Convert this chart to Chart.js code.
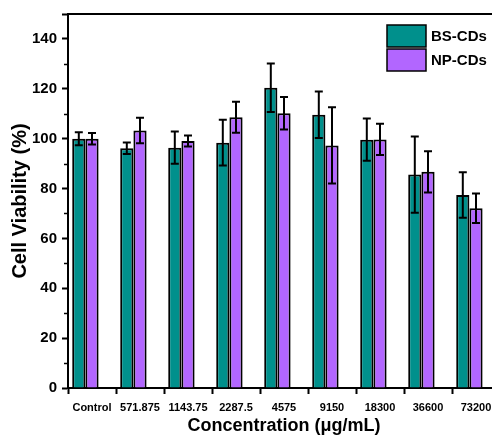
<!DOCTYPE html>
<html>
<head>
<meta charset="utf-8">
<script src="https://cdn.jsdelivr.net/npm/chart.js@4/dist/chart.umd.min.js"></script>
<style>
  html, body { margin: 0; padding: 0; background: #fff; overflow: hidden; }
  #wrap { width: 508px; height: 445px; }
</style>
</head>
<body>
<div id="wrap"><canvas id="chart" width="508" height="445"></canvas></div>
<script>
const categories = ['Control', '571.875', '1143.75', '2287.5', '4575', '9150', '18300', '36600', '73200'];
const bsValues = [100, 96.2, 96.4, 98.4, 120.4, 109.6, 99.6, 85.6, 77.4];
const bsErrors = [2.6, 2.3, 6.5, 9.2, 9.7, 9.3, 8.5, 15.3, 9.1];
const npValues = [100, 103.3, 99.1, 108.6, 110.2, 97.3, 99.7, 86.7, 72.1];
const npErrors = [2.3, 5.1, 2.2, 6.2, 6.5, 15.3, 6.3, 8.3, 5.9];
const yMinorTicks = [10, 30, 50, 70, 90, 110, 130];

const FONT = '"Liberation Sans", Arial, sans-serif';
const TEAL = '#00908c';
const PURPLE = '#b266ff';

// error bars, drawn from the library's own bar elements and y scale
const errorBars = {
  id: 'errorBars',
  afterDatasetsDraw(chart) {
    const { ctx } = chart;
    const yScale = chart.scales.y;
    ctx.save();
    ctx.strokeStyle = '#000';
    ctx.lineWidth = 2;
    chart.data.datasets.forEach((ds, i) => {
      if (!ds.errors) return;
      const meta = chart.getDatasetMeta(i);
      meta.data.forEach((bar, j) => {
        const v = ds.data[j];
        const e = ds.errors[j];
        const top = yScale.getPixelForValue(v + e);
        const bot = yScale.getPixelForValue(v - e);
        ctx.beginPath();
        ctx.moveTo(bar.x, top);
        ctx.lineTo(bar.x, bot);
        ctx.moveTo(bar.x - 4, top);
        ctx.lineTo(bar.x + 4, top);
        ctx.moveTo(bar.x - 4, bot);
        ctx.lineTo(bar.x + 4, bot);
        ctx.stroke();
      });
    });
    ctx.restore();
  }
};

// top frame line, minor y ticks and the boxed legend
const frame = {
  id: 'frame',
  afterDraw(chart) {
    const { ctx, chartArea } = chart;
    const yScale = chart.scales.y;
    ctx.save();
    ctx.strokeStyle = '#000';
    ctx.lineWidth = 2;
    ctx.beginPath();
    ctx.moveTo(chartArea.left - 1, chartArea.top);
    ctx.lineTo(chartArea.right, chartArea.top);
    ctx.stroke();

    ctx.lineWidth = 1.5;
    yMinorTicks.forEach((v) => {
      const y = Math.round(yScale.getPixelForValue(v)) + 0.5;
      ctx.beginPath();
      ctx.moveTo(chartArea.left - 4, y);
      ctx.lineTo(chartArea.left, y);
      ctx.stroke();
    });

    const boxX = chartArea.right - 113;
    let boxY = chartArea.top + 11;
    ctx.font = 'bold 15px ' + FONT;
    ctx.textBaseline = 'middle';
    chart.data.datasets.forEach((ds) => {
      if (!ds.label) return;
      ctx.fillStyle = ds.backgroundColor;
      ctx.fillRect(boxX, boxY, 39, 22);
      ctx.lineWidth = 1.5;
      ctx.strokeStyle = '#000';
      ctx.strokeRect(boxX, boxY, 39, 22);
      ctx.fillStyle = '#000';
      ctx.fillText(ds.label, boxX + 44, boxY + 12);
      boxY += 24;
    });
    ctx.restore();
  }
};

const barStyle = {
  borderColor: '#000',
  borderWidth: 2,
  barPercentage: 1,
  categoryPercentage: 0.825
};

new Chart(document.getElementById('chart'), {
  type: 'bar',
  data: {
    labels: categories,
    datasets: [
      { label: 'BS-CDs', data: bsValues, errors: bsErrors, backgroundColor: TEAL, ...barStyle },
      { label: 'NP-CDs', data: npValues, errors: npErrors, backgroundColor: PURPLE, ...barStyle },
      // empty slot so each pair sits left of its tick, as in the original
      { label: '', data: categories.map(() => null), backgroundColor: 'rgba(0,0,0,0)', ...barStyle }
    ]
  },
  options: {
    responsive: false,
    animation: false,
    layout: { padding: { left: 0, right: 8, top: 13, bottom: 0 } },
    plugins: {
      legend: { display: false },
      tooltip: { enabled: false }
    },
    scales: {
      x: {
        afterFit: (scale) => { scale.height = 57; },
        border: { color: '#000', width: 2 },
        grid: {
          drawOnChartArea: false,
          drawTicks: true,
          tickLength: 6,
          tickColor: '#000',
          tickWidth: 2
        },
        ticks: {
          color: '#000',
          padding: 7,
          maxRotation: 0,
          autoSkip: false,
          font: { family: FONT, size: 11, weight: 'bold' }
        },
        title: {
          display: true,
          text: 'Concentration (\u03bcg/mL)',
          color: '#000',
          padding: { top: 0, bottom: 8 },
          font: { family: FONT, size: 18, weight: 'bold', lineHeight: 1.2 }
        }
      },
      y: {
        min: 0,
        max: 150,
        afterFit: (scale) => { scale.width = 68; },
        border: { color: '#000', width: 2 },
        grid: {
          drawOnChartArea: false,
          drawTicks: true,
          tickLength: 6,
          tickColor: '#000',
          tickWidth: 2
        },
        ticks: {
          stepSize: 20,
          color: '#000',
          padding: 5,
          font: { family: FONT, size: 15, weight: 'bold' },
          callback: (v) => (v % 20 === 0 && v <= 140 ? v : '')
        },
        title: {
          display: true,
          text: 'Cell Viability (%)',
          color: '#000',
          padding: { top: 8, bottom: 0 },
          font: { family: FONT, size: 20, weight: 'bold', lineHeight: 1.2 }
        }
      }
    }
  },
  plugins: [errorBars, frame]
});
</script>
</body>
</html>
